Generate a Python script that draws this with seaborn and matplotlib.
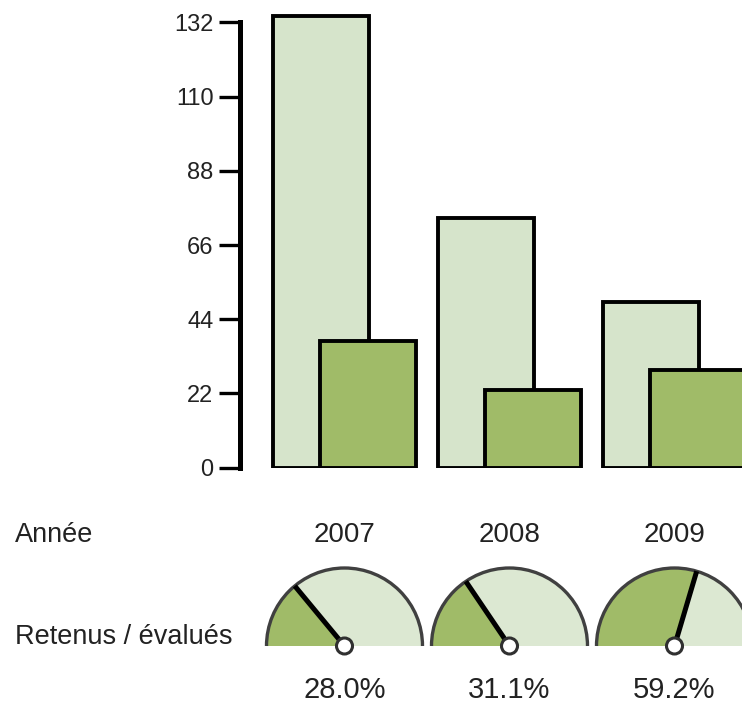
import numpy as np
import pandas as pd
import matplotlib
matplotlib.use("Agg")
import matplotlib.pyplot as plt
from matplotlib.patches import Wedge, Arc, Circle
import seaborn as sns

# data
years = ["2007", "2008", "2009"]
evalues = [134, 74, 49]      # dossiers évalués
retenus = [37.5, 23, 29]     # dossiers retenus
yticks = [0, 22, 44, 66, 88, 110, 132]

light = "#d6e4cb"
dark = "#a0bb68"

sns.set_style("white")
plt.rcParams['font.family'] = ['Liberation Sans', 'DejaVu Sans']

pos = np.arange(len(years))
shift = 0.1425
df = pd.DataFrame({"pos": pos, "annee": years, "evalues": evalues, "retenus": retenus})
df["taux"] = df["retenus"] / df["evalues"]

fig = plt.figure(figsize=(7.42, 7.06), dpi=100)
W, H = 742, 706
ppu = 165.0                     # pixels per group
x0 = -(344.5 - 240) / ppu
x1 = x0 + 502 / ppu

# bar axes
ax = fig.add_axes([240 / W, (H - 467.7) / H, 502 / W, 457.7 / H])
sns.barplot(x=df["pos"] - shift, y=df["evalues"], native_scale=True, width=0.576,
            color=light, saturation=1, edgecolor="black", linewidth=2.8,
            errorbar=None, ax=ax)
sns.barplot(x=df["pos"] + shift, y=df["retenus"], native_scale=True, width=0.576,
            color=dark, saturation=1, edgecolor="black", linewidth=2.8,
            errorbar=None, ax=ax)
ax.set_xlim(x0, x1)
ax.set_ylim(0, 457.7 / 3.373)
ax.set_yticks(yticks)
ax.set_xticks([])
ax.set_xlabel("")
ax.set_ylabel("")
for s in ["top", "right", "bottom"]:
    ax.spines[s].set_visible(False)
ax.spines["left"].set_linewidth(3.6)
ax.spines["left"].set_color("black")
ax.spines["left"].set_bounds(0, 132)
ax.tick_params(axis="y", length=15, width=2.4, pad=4, labelsize=17,
               colors="black", labelcolor="#222222", left=True)

for p, y in zip(df["pos"], df["annee"]):
    ax.text(p, -0.147, y, transform=ax.get_xaxis_transform(), ha="center",
            va="center", fontsize=20, color="#222222")

fig.text(15 / W, (H - 535) / H, "Année", ha="left", va="center", fontsize=19.5, color="#222222")
fig.text(15 / W, (H - 637) / H, "Retenus / évalués", ha="left", va="center",
         fontsize=19.5, color="#222222")

# gauges
axg = fig.add_axes([240 / W, 0, 502 / W, 151 / H])
axg.set_xlim(x0, x1)
yb = -60 / ppu
axg.set_ylim(yb, yb + 151 / ppu)
axg.axis("off")
r = 78 / ppu
for p, t in zip(df["pos"], df["taux"]):
    ang = 180 - 180 * t
    axg.add_patch(Wedge((p, 0), r, 0, ang, facecolor="#dce8d2", edgecolor="none"))
    axg.add_patch(Wedge((p, 0), r, ang, 180, facecolor=dark, edgecolor="none"))
    axg.add_patch(Arc((p, 0), 2 * r, 2 * r, theta1=0, theta2=180, color="#404040", lw=2.4))
    a = np.deg2rad(ang)
    axg.plot([p, p + r * np.cos(a)], [0, r * np.sin(a)], color="black", lw=3.6,
             solid_capstyle="butt")
    axg.add_patch(Circle((p, 0), 8 / ppu, facecolor="white", edgecolor="#303030", lw=2.2,
                         zorder=5))
    axg.text(p, -44 / ppu, f"{t * 100:.1f}%", ha="center", va="center", fontsize=21,
             color="#222222")

fig.savefig("out.png", dpi=100)
